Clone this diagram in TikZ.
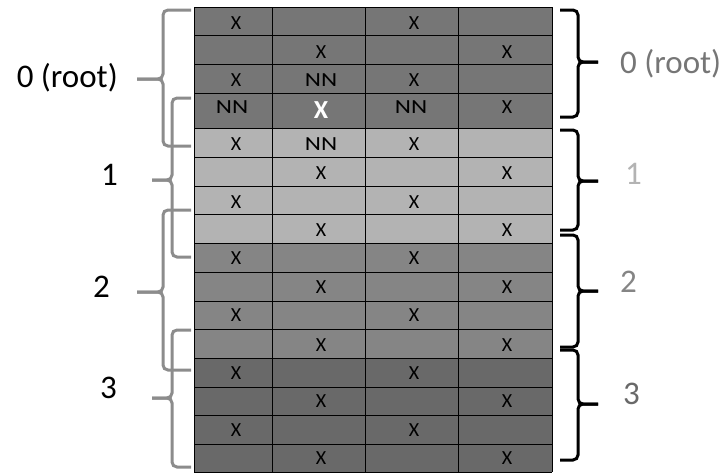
\documentclass[tikz,border=0pt]{standalone}
\usepackage{fontspec}
\setmainfont{Carlito}
\usepackage{xcolor}
\usepackage{tikz}

\definecolor{lvlzero}{HTML}{767676}
\definecolor{lvlone}{HTML}{B3B3B3}
\definecolor{lvltwo}{HTML}{858585}
\definecolor{lvlthree}{HTML}{696969}
\definecolor{bracegray}{HTML}{8C8C8C}

\newcommand\wideNN{\scalebox{1.25}[1]{NN}}

\tikzset{
    cell/.style={inner sep=0pt,font=\fontsize{20}{20}\selectfont},
    lvl/.style={inner sep=0pt,font=\fontsize{33}{33}\selectfont},
    lbrace/.style={draw=bracegray,line width=3pt,rounded corners=5pt},
    rbrace/.style={draw=black,line width=3pt,rounded corners=5pt}
}

\begin{document}
\begin{tikzpicture}[x=1pt,y=-1pt]
    \useasboundingbox (0,0) rectangle (727,474);
    % bands of the table
    \fill[lvlzero] (194,7) rectangle (552,128);
    \fill[lvlone] (194,128) rectangle (552,243);
    \fill[lvltwo] (194,243) rectangle (552,358);
    \fill[lvlthree] (194,358) rectangle (552,472);
    \foreach \y in {7,35,64,93,128,157,186,214,243,272,301,329,358,387,415,444,472}
        \draw[line width=0.8pt] (194,\y) -- (552,\y);
    \foreach \x in {194,272,365,458,552}
        \draw[line width=0.8pt] (\x,7) -- (\x,472);
    % cells
    \foreach \y [count=\r] in {23,52,80,107,144,173,202,230,258.5,287.5,315.5,345,373.5,401.5,430.5,458.5}{
        \ifodd\r
            \node[cell] (c\r-1) at (236,\y) {X};
            \node[cell] (c\r-3) at (414,\y) {X};
        \else
            \ifnum\r=4 \else \node[cell] (c\r-2) at (321,\y) {X};\fi
            \node[cell] (c\r-4) at (507,\y) {X};
        \fi
    }
    \node[cell,font=\bfseries\fontsize{26}{26}\selectfont,text=white] (c4-2) at (321,110) {X};
    \node[cell] (c3-2) at (321,80) {\wideNN};
    \node[cell] (c4-1) at (232,107) {\wideNN};
    \node[cell] (c4-3) at (411,107) {\wideNN};
    \node[cell] (c5-2) at (321,144) {\wideNN};
    % left braces
    \foreach \ya/\yb/\ym/\sp/\tx in {10/146/79/163/137,98/257/180/172/152,210/370/292/163/137,330/467/398/172/152}{
        \draw[lbrace] (191,\ya) -- (\sp,\ya) -- (\sp,\ym) -- (\tx,\ym);
        \draw[lbrace] (191,\yb) -- (\sp,\yb) -- (\sp,\ym) -- (\tx,\ym);
    }
    % right braces
    \foreach \ya/\yb/\ym in {10/117/62,130/230/181,235/347/291,350/460/404}{
        \draw[rbrace] (560,\ya) -- (578,\ya) -- (578,\ym) -- (598,\ym);
        \draw[rbrace] (560,\yb) -- (578,\yb) -- (578,\ym) -- (598,\ym);
    }
    % level names
    \node[lvl,anchor=base east] (l0) at (118,87) {0 (root)};
    \node[lvl,anchor=base east] (l1) at (118,185) {1};
    \node[lvl,anchor=base east] (l2) at (110,297) {2};
    \node[lvl,anchor=base east] (l3) at (117,398) {3};
    \node[lvl,anchor=base west,text=lvlzero] (r0) at (620,73) {0 (root)};
    \node[lvl,anchor=base west,text=lvlone] (r1) at (625,184) {1};
    \node[lvl,anchor=base west,text=lvltwo] (r2) at (620,292) {2};
    \node[lvl,anchor=base west,text=lvlthree] (r3) at (623,404) {3};
\end{tikzpicture}
\end{document}
